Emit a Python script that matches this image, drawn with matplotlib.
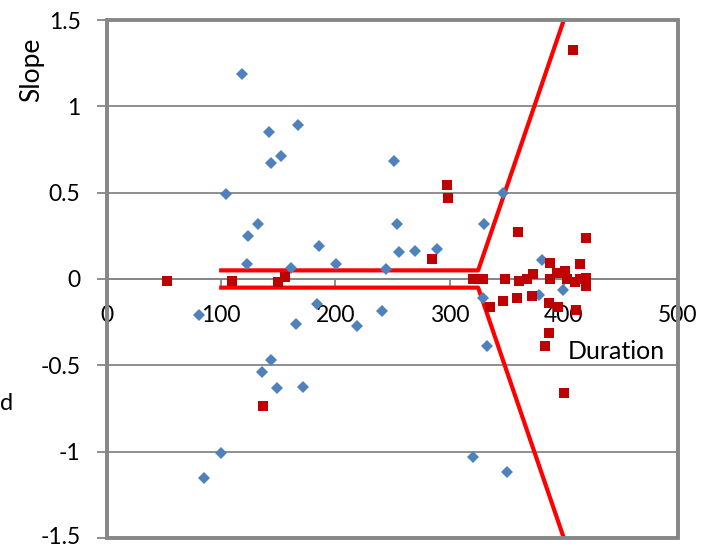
import matplotlib
matplotlib.use("Agg")
import matplotlib.pyplot as plt
from matplotlib.patches import Rectangle
from matplotlib.transforms import ScaledTranslation

plt.rcParams['font.family'] = ['Lato', 'DejaVu Sans']

# series 1: blue diamonds
blue_x = [80.6, 85, 100, 104, 118, 123, 123.5, 132, 135.7, 142, 143.6, 144, 149, 152,
          161, 165.5, 167, 171.6, 184, 186, 200.5, 219, 241, 244, 251, 254, 255.7,
          269.7, 289, 320.5, 329, 330, 333, 346.8, 350, 378, 381, 399]
blue_y = [-0.21, -1.155, -1.01, 0.49, 1.19, 0.087, 0.25, 0.32, -0.54, 0.85, -0.47, 0.67,
          -0.63, 0.71, 0.064, -0.26, 0.89, -0.625, -0.145, 0.19, 0.087, -0.27, -0.185,
          0.058, 0.683, 0.32, 0.156, 0.162, 0.174, -1.03, -0.11, 0.32, -0.39, 0.50,
          -1.12, -0.095, 0.11, -0.064]

# series 2: red squares
red_x = [52.5, 109.5, 136.6, 150, 156, 284.6, 297.7, 298.6, 320.5, 329, 335, 347, 348.5,
         359, 360, 361, 368, 372, 373, 383.5, 387, 387, 388, 388, 394, 395, 400, 401,
         403, 408, 410, 411, 414, 414, 419, 419, 419.5]
red_y = [-0.012, -0.012, -0.735, -0.017, 0.01, 0.116, 0.544, 0.47, 0.0, 0.0, -0.16, -0.13,
         0.0, -0.11, 0.27, -0.01, 0.0, -0.10, 0.03, -0.39, -0.31, -0.14, 0.093, 0.0,
         0.035, -0.16, -0.66, 0.046, 0.0, 1.325, -0.02, -0.18, 0.087, 0.0, 0.006, -0.04,
         0.237]

# boundary lines
upper_x = [100, 325, 400]
upper_y = [0.05, 0.05, 1.5]
lower_x = [100, 325, 400]
lower_y = [-0.05, -0.05, -1.5]

yticks = [-1.5, -1, -0.5, 0, 0.5, 1, 1.5]
ytick_labels = ['-1.5', '-1', '-0.5', '0', '0.5', '1', '1.5']
xticks = [0, 100, 200, 300, 400, 500]

grey = '#868686'

fig = plt.figure(figsize=(7.09, 5.47), dpi=100)
ax = fig.add_axes([0.1509, 0.0165, 0.8054, 0.9469])

ax.set_xlim(0, 500)
ax.set_ylim(-1.5, 1.5)

ax.plot(upper_x, upper_y, color='#FF0000', lw=3, zorder=3)
ax.plot(lower_x, lower_y, color='#FF0000', lw=3, zorder=3)
ax.plot(blue_x, blue_y, 'D', color='#4F81BD', ms=6.4, mew=0, zorder=4)
ax.plot(red_x, red_y, 's', color='#C00000', ms=7.7, mew=0, zorder=5)

# horizontal gridlines
ax.set_yticks(yticks)
ax.set_yticklabels(ytick_labels)
ax.yaxis.grid(True, color=grey, lw=1.3)
ax.set_axisbelow(True)

# x axis crosses at zero
for s in ['left', 'right', 'top']:
    ax.spines[s].set_visible(False)
ax.spines['bottom'].set_position(('data', 0))
ax.spines['bottom'].set_color(grey)
ax.spines['bottom'].set_linewidth(1.3)
ax.set_xticks(xticks)
ax.set_xticklabels([str(v) for v in xticks])

ax.tick_params(axis='x', direction='out', length=5, width=1.3, color=grey,
               labelsize=16.5, pad=14)
ax.tick_params(axis='y', direction='out', length=7, width=1.3, color=grey,
               labelsize=16.5, pad=12)

# keep the lowest y label inside the canvas
bottom_label = ax.get_yticklabels()[0]
bottom_label.set_transform(bottom_label.get_transform() +
                           ScaledTranslation(0, 2 / 100, fig.dpi_scale_trans))

# plot area border
ax.add_patch(Rectangle((0, 0), 1, 1, transform=ax.transAxes, fill=False,
                       ec=grey, lw=2.8, clip_on=False, zorder=6))

fig.text(0.044, 0.872, 'Slope', rotation=90, ha='center', va='center', fontsize=19)
fig.text(0.801, 0.3437, 'Duration', ha='left', va='baseline', fontsize=18)
fig.text(0.0, 0.2505, 'd', ha='left', va='baseline', fontsize=17)

fig.savefig('out.png', dpi=100)
